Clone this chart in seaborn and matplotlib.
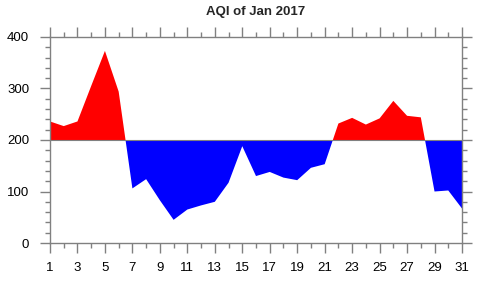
import matplotlib.pyplot as plt
import seaborn as sns
import numpy as np
import pandas as pd
from matplotlib.ticker import MultipleLocator

days = list(range(1, 32))
aqi = [236, 227, 236, 305, 373, 294, 106, 124, 83, 45, 65, 73, 80, 117, 188,
       130, 138, 127, 122, 146, 153, 232, 243, 230, 242, 276, 247, 244, 100, 102, 67]
baseline = 200
xticks = list(range(1, 32, 2))

df = pd.DataFrame({"day": days, "aqi": aqi})

sns.set_style("white")
plt.rcParams['font.family'] = ['Liberation Sans', 'DejaVu Sans']

fig = plt.figure(figsize=(4.78, 2.82), dpi=100)
ax = fig.add_axes([50 / 478, 1 - 243 / 282, 412 / 478, 206 / 282])

# invisible line so seaborn sets up the axes from the data
sns.lineplot(data=df, x="day", y="aqi", ax=ax, linewidth=0)

x = df["day"].to_numpy(dtype=float)
y = df["aqi"].to_numpy(dtype=float)
ax.fill_between(x, baseline, y, where=y >= baseline, interpolate=True,
                color="#ff0000", linewidth=0)
ax.fill_between(x, baseline, y, where=y <= baseline, interpolate=True,
                color="#0000ff", linewidth=0)
ax.axhline(baseline, color="#808080", linewidth=0.8)

ax.set_xlim(1, 31)
ax.set_ylim(0, 400)
ax.set_xlabel("")
ax.set_ylabel("")
fig.text(256 / 478, 1 - 11.5 / 282, "AQI of Jan 2017", fontsize=9.5,
         fontweight="bold", ha="center", va="center")

ax.set_xticks(xticks)
ax.xaxis.set_minor_locator(MultipleLocator(1))
ax.yaxis.set_major_locator(MultipleLocator(100))
ax.yaxis.set_minor_locator(MultipleLocator(20))

gray = "#808080"
for s in ax.spines.values():
    s.set_visible(True)
    s.set_color(gray)
    s.set_linewidth(1.0)

ax.tick_params(which="both", direction="out", color=gray, width=1.0,
               top=True, right=True, bottom=True, left=True,
               labelsize=9.5, labelcolor="black")
ax.tick_params(which="major", length=7)
ax.tick_params(which="minor", length=3.5)
ax.tick_params(axis="x", which="major", pad=7)
ax.tick_params(axis="y", which="major", pad=8)

fig.savefig("out.png", dpi=100)
